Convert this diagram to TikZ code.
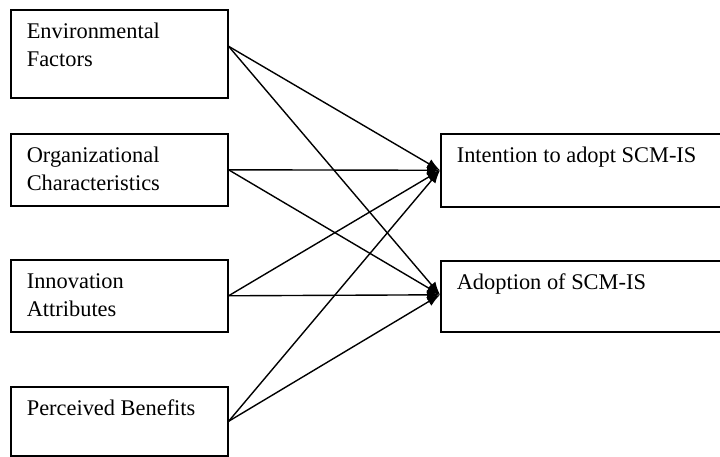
\documentclass[tikz,border=0pt]{standalone}
\usepackage{fontspec}
\setmainfont{Liberation Serif}
\usepackage{tikz}
\usetikzlibrary{arrows.meta}

\begin{document}
\begin{tikzpicture}[x=1pt, y=-1pt,
    factor/.style={draw, line width=1.6, anchor=north west,
        inner xsep=16pt, inner ysep=9pt,
        font=\fontsize{22.4}{28}\selectfont},
    link/.style={line width=1.4, -{Latex[length=13pt, width=10pt]}}]
    \useasboundingbox (0,0) rectangle (720,457);

    % factors
    \node[factor] (env) at (10,9)
        {\parbox[t][70pt][t]{185pt}{\raggedright\strut Environmental\\Factors}};
    \node[factor] (org) at (10,133)
        {\parbox[t][54pt][t]{185pt}{\raggedright\strut Organizational\\Characteristics}};
    \node[factor] (inno) at (10,259)
        {\parbox[t][54pt][t]{185pt}{\raggedright\strut Innovation\\Attributes}};
    \node[factor] (benef) at (10,386)
        {\parbox[t][51pt][t]{185pt}{\raggedright\strut Perceived Benefits}};

    % outcomes
    \node[factor] (intent) at (440,133)
        {\parbox[t][55pt][t]{253pt}{\raggedright\strut Intention to adopt SCM-IS}};
    \node[factor] (adopt) at (440,260)
        {\parbox[t][53pt][t]{253pt}{\raggedright\strut Adoption of SCM-IS}};

    % links
    \draw[link] ([yshift=7.5pt]env.east) -- (intent.west);
    \draw[link] ([yshift=7.5pt]env.east) -- ([yshift=1.5pt]adopt.west);
    \draw[link] (org.east) -- (intent.west);
    \draw[link] (org.east) -- ([yshift=1.5pt]adopt.west);
    \draw[link] (inno.east) -- (intent.west);
    \draw[link] (inno.east) -- ([yshift=1.5pt]adopt.west);
    \draw[link] (benef.east) -- (intent.west);
    \draw[link] (benef.east) -- ([yshift=1.5pt]adopt.west);
\end{tikzpicture}
\end{document}
